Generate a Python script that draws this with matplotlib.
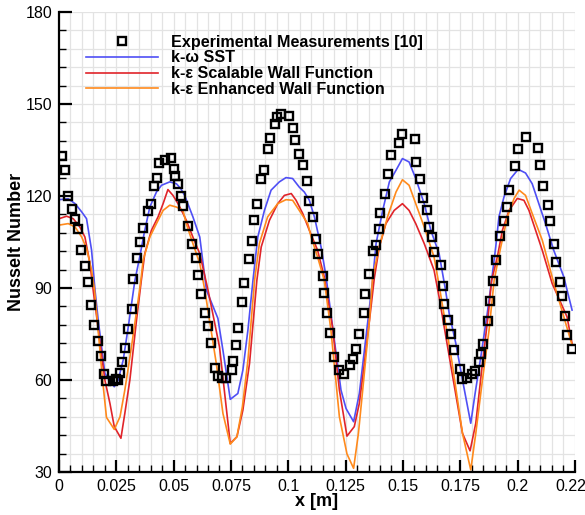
import numpy as np
import matplotlib.pyplot as plt
import matplotlib.transforms as mtransforms
from matplotlib.ticker import MultipleLocator, FixedLocator

plt.rcParams['font.family'] = ['Liberation Sans', 'DejaVu Sans']

# Experimental Nusselt number along the wall
exp_x = [0.0012, 0.0026, 0.0040, 0.0055, 0.0070, 0.0081, 0.0097, 0.0113, 0.0127, 0.0139,
         0.0154, 0.0168, 0.0183, 0.0196, 0.0206, 0.0236, 0.0247, 0.0258, 0.0266, 0.0274,
         0.0289, 0.0303, 0.0318, 0.0324, 0.0339, 0.0354, 0.0368, 0.0386, 0.0400, 0.0415,
         0.0426, 0.0435, 0.0461, 0.0490, 0.0502, 0.0508, 0.0519, 0.0531, 0.0542, 0.0563,
         0.0582, 0.0596, 0.0606, 0.0621, 0.0635, 0.0650, 0.0664, 0.0679, 0.0693, 0.0712,
         0.0729, 0.0756, 0.0758, 0.0770, 0.0782, 0.0799, 0.0808, 0.0827, 0.0841, 0.0852,
         0.0865, 0.0879, 0.0892, 0.0911, 0.0921, 0.0944, 0.0950, 0.0969, 0.1002, 0.1022,
         0.1031, 0.1048, 0.1065, 0.1080, 0.1090, 0.1107, 0.1121, 0.1131, 0.1150, 0.1158,
         0.1169, 0.1184, 0.1198, 0.1223, 0.1245, 0.1271, 0.1284, 0.1297, 0.1310, 0.1329,
         0.1335, 0.1350, 0.1368, 0.1382, 0.1397, 0.1401, 0.1423, 0.1437, 0.1448, 0.1481,
         0.1498, 0.1553, 0.1559, 0.1574, 0.1587, 0.1604, 0.1614, 0.1626, 0.1636, 0.1665,
         0.1675, 0.1679, 0.1698, 0.1709, 0.1723, 0.1748, 0.1756, 0.1781, 0.1803, 0.1814,
         0.1832, 0.1840, 0.1849, 0.1870, 0.1879, 0.1892, 0.1905, 0.1922, 0.1941, 0.1953,
         0.1963, 0.1989, 0.2002, 0.2038, 0.2089, 0.2096, 0.2112, 0.2134, 0.2140, 0.2158,
         0.2168, 0.2187, 0.2194, 0.2209, 0.2218, 0.2238]
exp_nu = [132.9, 128.6, 120.0, 115.6, 112.6, 109.1, 102.5, 97.2, 91.8, 84.5,
          78.0, 72.7, 67.8, 62.0, 59.7, 59.6, 60.2, 60.0, 62.3, 65.8,
          70.4, 76.6, 83.0, 92.8, 99.7, 105.0, 109.6, 115.1, 117.5, 123.2,
          126.0, 130.7, 131.9, 132.5, 128.8, 126.4, 123.8, 120.1, 116.8, 110.1,
          104.3, 99.9, 94.4, 87.9, 82.0, 77.6, 72.1, 64.0, 61.3, 60.8,
          60.7, 63.2, 66.3, 71.3, 77.1, 85.4, 91.6, 99.6, 105.3, 112.1,
          117.3, 125.7, 128.6, 135.2, 139.0, 143.6, 145.7, 146.8, 146.0, 142.2,
          138.4, 133.8, 130.0, 124.9, 118.4, 113.0, 106.1, 101.2, 93.8, 88.5,
          81.7, 75.2, 67.4, 63.2, 62.1, 64.9, 67.0, 70.0, 74.9, 81.9,
          88.2, 94.5, 102.1, 103.9, 109.4, 114.5, 120.6, 127.1, 133.3, 137.3,
          140.3, 138.7, 131.1, 125.5, 119.5, 115.3, 109.9, 106.6, 101.8, 97.4,
          90.8, 84.9, 79.7, 75.0, 69.7, 63.5, 60.4, 60.5, 61.9, 63.0,
          65.9, 68.4, 71.9, 79.3, 85.8, 92.3, 99.1, 106.9, 111.8, 116.4,
          121.9, 129.7, 135.2, 139.2, 135.8, 130.0, 123.2, 117.2, 111.8, 104.2,
          98.5, 92.0, 87.3, 80.8, 74.6, 70.0]

# k-omega SST
sst_x = [0, 0.004, 0.007, 0.0099, 0.012, 0.0142, 0.0157, 0.0171, 0.02, 0.0214, 0.0241, 0.0258,
         0.028, 0.0302, 0.0331, 0.0352, 0.0371, 0.0396, 0.0425, 0.0447, 0.0483, 0.0512, 0.0531,
         0.0548, 0.0584, 0.0614, 0.0643, 0.0693, 0.0715, 0.0747, 0.078, 0.0802, 0.0824, 0.0846,
         0.0867, 0.0896, 0.0925, 0.0961, 0.099, 0.1019, 0.1048, 0.107, 0.1092, 0.1114, 0.1143,
         0.1165, 0.1201, 0.123, 0.1252, 0.1285, 0.131, 0.1339, 0.1368, 0.1383, 0.1412, 0.1441,
         0.147, 0.1498, 0.1527, 0.1556, 0.1593, 0.1622, 0.1658, 0.1686, 0.1702, 0.1731, 0.176,
         0.1796, 0.1815, 0.184, 0.1868, 0.1887, 0.1905, 0.1919, 0.1941, 0.197, 0.2003, 0.2035,
         0.2064, 0.2093, 0.2122, 0.2158, 0.2202, 0.2238]
sst_nu = [118.8, 119.1, 117.5, 114.8, 112.6, 102.3, 89.3, 79.5, 62.2, 60.5, 57.8, 60.0,
          66.5, 77.3, 92.5, 100.1, 107.7, 116.4, 121.3, 123.5, 124.6, 124.0, 122.4,
          120.2, 113.2, 106.6, 89.3, 80.1, 69.7, 53.7, 55.6, 63.2, 76.3, 92.5,
          106.6, 115.3, 121.9, 124.6, 126.0, 125.7, 122.9, 121.3, 118.6, 113.2, 103.4,
          93.6, 73.0, 56.7, 50.7, 46.4, 55.6, 74.1, 92.5, 104.5, 115.3, 124.6,
          128.4, 132.2, 131.1, 125.7, 117.5, 108.8, 101.2, 89.3, 81.7, 71.9, 60.0,
          45.9, 55.6, 67.6, 81.7, 92.5, 103.4, 113.2, 119.7, 125.7, 128.7, 127.5,
          124.0, 117.5, 111.0, 102.3, 93.6, 82.8]

# k-epsilon, scalable wall function
swf_x = [0, 0.0033, 0.0062, 0.0091, 0.0113, 0.0135, 0.0149, 0.02, 0.0222, 0.0241, 0.027, 0.0287,
         0.0309, 0.0338, 0.0359, 0.0374, 0.0403, 0.0432, 0.0454, 0.0475, 0.0497, 0.0519, 0.0541,
         0.0555, 0.0584, 0.0614, 0.065, 0.07, 0.0729, 0.0747, 0.0776, 0.0802, 0.0831, 0.0863,
         0.0882, 0.0918, 0.0954, 0.0983, 0.1013, 0.1034, 0.1063, 0.1092, 0.1128, 0.1157, 0.1193,
         0.1223, 0.1256, 0.1288, 0.131, 0.1332, 0.1361, 0.1375, 0.1397, 0.1426, 0.1462, 0.1498,
         0.1527, 0.1556, 0.1593, 0.1636, 0.1658, 0.1715, 0.176, 0.1793, 0.1818, 0.1847, 0.1873,
         0.1887, 0.1912, 0.1934, 0.1963, 0.1999, 0.2028, 0.205, 0.2079, 0.2108, 0.2151, 0.2216,
         0.2238]
swf_nu = [112.6, 113.4, 112.6, 109.9, 106.6, 98.0, 89.3, 60.0, 52.4, 44.8, 41.0, 49.1,
          60.0, 79.5, 92.5, 101.2, 108.8, 113.2, 117.5, 122.1, 120.2, 117.5, 114.3,
          112.1, 106.6, 101.2, 89.3, 70.8, 51.3, 39.3, 41.5, 50.2, 65.4, 92.5,
          103.4, 112.1, 117.5, 120.2, 120.8, 118.6, 114.3, 108.8, 102.3, 93.6, 77.3,
          56.7, 41.7, 44.8, 52.4, 65.4, 83.8, 93.0, 103.4, 111.0, 115.3, 117.5,
          115.3, 111.0, 104.5, 95.8, 87.0, 62.1, 42.6, 36.9, 45.9, 65.4, 81.7,
          92.5, 100.1, 108.8, 115.3, 119.2, 118.6, 115.3, 108.8, 102.3, 91.5, 80.6,
          71.9]

# k-epsilon, enhanced wall function
ewf_x = [0, 0.004, 0.007, 0.0099, 0.012, 0.0142, 0.0155, 0.019, 0.0207, 0.0241, 0.0266, 0.0287,
         0.0316, 0.0345, 0.0357, 0.0367, 0.0396, 0.0425, 0.0454, 0.0483, 0.0512, 0.0541, 0.0555,
         0.0584, 0.0614, 0.0636, 0.0686, 0.0715, 0.0747, 0.0776, 0.08, 0.0824, 0.0853, 0.0874,
         0.091, 0.0954, 0.099, 0.1019, 0.1048, 0.1085, 0.11, 0.1128, 0.1157, 0.1186, 0.1223,
         0.1256, 0.1285, 0.1306, 0.1329, 0.1354, 0.1368, 0.1397, 0.1433, 0.147, 0.1498, 0.1527,
         0.1556, 0.1593, 0.1636, 0.166, 0.1715, 0.176, 0.1796, 0.1818, 0.1847, 0.1876, 0.1898,
         0.1927, 0.1956, 0.1985, 0.2007, 0.2035, 0.2064, 0.2108, 0.2151, 0.2202, 0.2238]
ewf_nu = [110.5, 111.0, 109.9, 106.6, 102.9, 95.8, 89.3, 60.0, 47.8, 43.9, 48.0, 56.7,
          70.8, 86.0, 92.5, 99.1, 106.6, 111.0, 115.3, 117.0, 116.4, 115.3, 111.0,
          104.5, 98.0, 89.3, 65.4, 49.1, 39.1, 41.5, 51.3, 66.5, 92.5, 104.5,
          113.2, 117.5, 118.8, 118.6, 115.3, 111.0, 106.6, 100.1, 92.5, 76.3, 48.0,
          35.9, 31.2, 42.6, 60.0, 79.5, 93.6, 103.4, 113.2, 121.3, 125.3, 123.5,
          117.5, 109.9, 100.1, 90.0, 65.4, 42.6, 30.7, 42.6, 60.0, 76.3, 92.5,
          103.4, 113.2, 119.2, 121.9, 120.2, 114.3, 105.6, 93.6, 80.6, 71.4]

x_ticks = [0, 0.025, 0.05, 0.075, 0.1, 0.125, 0.15, 0.175, 0.2, 0.225]
x_labels = ['0', '0.025', '0.05', '0.075', '0.1', '0.125', '0.15', '0.175', '0.2', '0.22']

fig = plt.figure(figsize=(5.85, 5.15), dpi=100)
ax = fig.add_axes([0.1009, 0.0835, 0.8817, 0.8932])

ax.plot(sst_x, sst_nu, color='#4f4ff5', lw=1.2, label='k-\u03c9 SST')
ax.plot(swf_x, swf_nu, color='#e0242a', lw=1.2, label='k-\u03b5 Scalable Wall Function')
ax.plot(ewf_x, ewf_nu, color='#ff8a1c', lw=1.2, label='k-\u03b5 Enhanced Wall Function')
ax.plot(exp_x, exp_nu, ls='none', marker='s', ms=5.3, mfc='none', mec='black', mew=1.7,
        label='Experimental Measurements [10]', zorder=5)

ax.set_xlim(0, 0.225)
ax.set_ylim(30, 180)
ax.xaxis.set_major_locator(FixedLocator(x_ticks))
ax.set_xticklabels(x_labels)
ax.xaxis.set_minor_locator(MultipleLocator(0.005))
ax.yaxis.set_major_locator(MultipleLocator(30))
ax.yaxis.set_minor_locator(MultipleLocator(6))

ax.grid(which='both', color='#e3e3e3', lw=0.9)
ax.set_axisbelow(True)
for s in ['top', 'right']:
    ax.spines[s].set_visible(False)
for s in ['left', 'bottom']:
    ax.spines[s].set_linewidth(1.6)
ax.tick_params(which='major', direction='in', length=9, width=1.6, labelsize=11.5, pad=5)
ax.tick_params(which='minor', direction='in', length=5, width=1.0)

# nudge the last x label so it stays inside the figure
last = ax.get_xticklabels()[-1]
last.set_transform(last.get_transform() +
                   mtransforms.ScaledTranslation(-4 / 100, 0, fig.dpi_scale_trans))

ax.set_xlabel('x [m]', fontsize=13, fontweight='bold', labelpad=-1)
ax.set_ylabel('Nusselt Number', fontsize=13, fontweight='bold', labelpad=0)

h, l = ax.get_legend_handles_labels()
order = [3, 0, 1, 2]
ax.legend([h[i] for i in order], [l[i] for i in order], loc='upper left',
          bbox_to_anchor=(0.052, 0.951), frameon=False, borderpad=0, borderaxespad=0,
          labelspacing=0.05, handlelength=4.5, handletextpad=0.8,
          prop={'weight': 'bold', 'size': 11.6})

fig.savefig('out.png', dpi=100)
